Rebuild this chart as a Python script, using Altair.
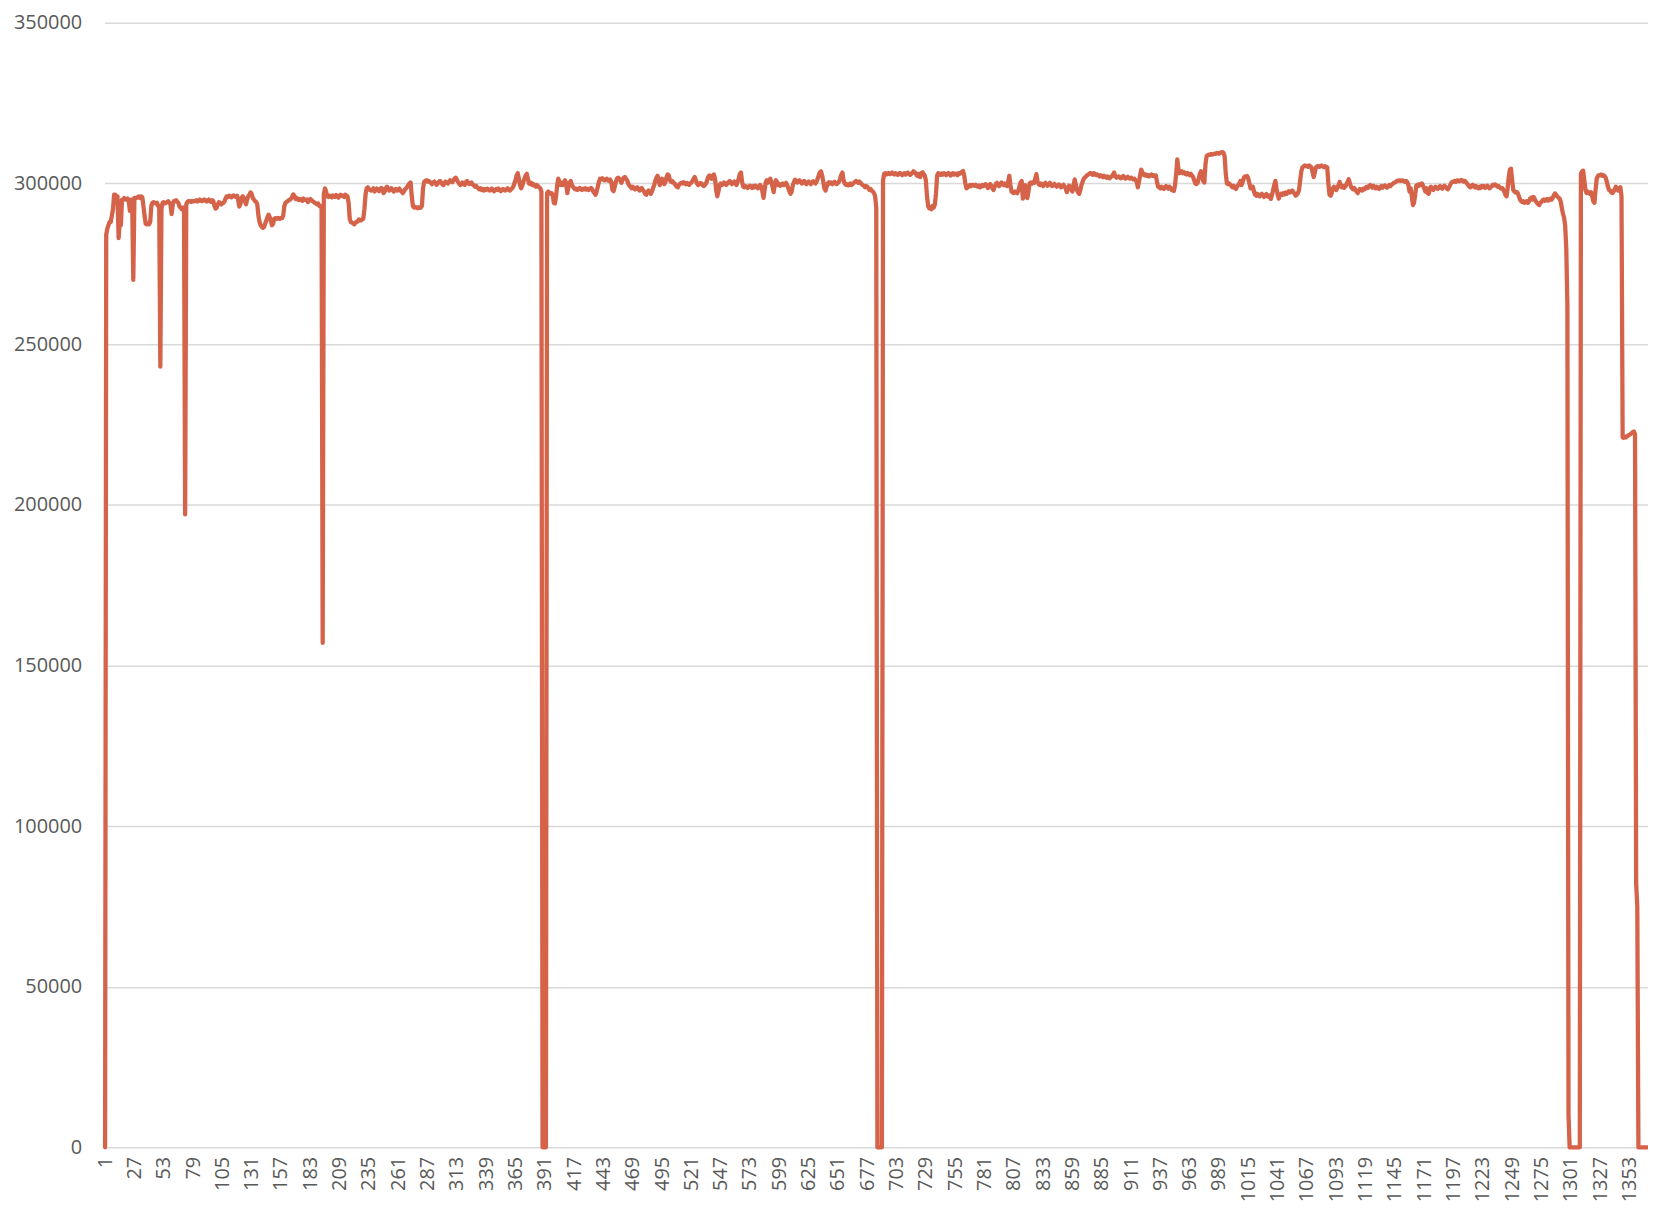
import altair as alt
import pandas as pd

# Series values in thousands (row start index in comment)
values_k = [
    # 1
    0, 284, 286, 287, 288, 288, 290, 292, 296.5, 296.5, 296, 296, 283, 288, 287, 295, 295, 295.5, 295, 295, 295.3, 294.5, 291.5, 295, 295, 270, 295.5, 295.5,
    # 29
    295.5, 295.8, 296, 295.5, 296, 295.8, 293, 290, 287.5, 287.3, 287.5, 287.3, 288, 293, 294, 294.2, 294, 293.8, 294, 293, 293, 243, 292, 294, 294.2, 293.8,
    # 55
    294, 294.2, 294.5, 294, 293.5, 290.5, 293.5, 294.5, 294.5, 294.8, 294.3, 294, 292.8, 292.5, 292, 292.5, 292.2, 197, 293.5, 294.3, 294.5, 294.5, 294.3, 294.6, 294.4, 294.5,
    # 81
    294.5, 294.8, 294.4, 294.6, 295, 294.7, 294.5, 294.8, 295, 294.6, 294.4, 294.8, 295, 294.5, 294.3, 294.8, 294.5, 293, 292.2, 292.5, 293.5, 294.2, 294, 293.5, 293.8, 294,
    # 107
    294.5, 295.5, 296, 295.8, 296.2, 296, 295.7, 296.1, 296.3, 296, 295.8, 296.2, 295, 292.8, 293.5, 295.5, 296, 295.6, 294.5, 293.5, 295, 296, 296.5, 297.2, 296.8, 295.5,
    # 133
    295, 294.5, 294.3, 293.5, 290, 288, 287, 286.5, 286.2, 286.5, 287.5, 288.5, 289.5, 290.3, 289.5, 288.5, 287, 287.5, 289, 289.2, 289, 289.3, 289.2, 289, 289.3, 289.2,
    # 159
    290, 293, 294, 294.3, 294.5, 294.8, 295, 295.3, 296, 296.6, 296, 295.2, 295.5, 295, 294.8, 295.2, 295, 294.6, 295.3, 295, 294.8, 295, 294.2, 294.7, 295.2, 294.8,
    # 185
    294.5, 294.3, 294, 293.8, 293.5, 293.8, 293, 292.8, 293, 157, 296.5, 298.5, 297.5, 296, 295.8, 296.2, 296, 295.7, 296.3, 296, 295.8, 296.4, 296, 295.6, 296.2, 296.5,
    # 211
    296.3, 296, 295.8, 296.5, 296.2, 296, 294, 289, 288, 287.8, 287.6, 287.3, 287.8, 288, 288.2, 288.8, 288.6, 288.5, 288.8, 289, 292, 296.5, 298.5, 298.8, 298.2, 298,
    # 237
    297.8, 298.2, 298.5, 297.5, 298, 298.4, 298, 297.6, 298.3, 298.6, 298.2, 297, 297.5, 298.5, 299, 298.3, 297.8, 298, 298.5, 298.2, 297.5, 298, 298.3, 297.8, 298, 298.4,
    # 263
    297.8, 297.5, 297, 297.5, 298.2, 298.5, 299, 299.5, 300, 300.3, 296, 293, 292.5, 292.7, 292.5, 292.3, 292.6, 292.4, 292.5, 293, 298.5, 300.5, 300.8, 301, 300.6, 300.8,
    # 289
    300.5, 300.2, 299.8, 300.3, 300.6, 300.2, 299.6, 300, 300.5, 300.8, 300.4, 299.8, 299.5, 300, 300.6, 300.3, 300, 300.5, 301, 300.7, 300.4, 301, 301.5, 301.8, 301.2, 300.5,
    # 315
    300, 299.5, 299.8, 300.3, 300, 299.6, 300.4, 300.8, 300.2, 299.8, 300, 300.3, 299.7, 299.4, 299, 299.3, 298.8, 298.5, 298.2, 298.5, 298, 298.3, 297.8, 298.2, 298, 298.4,
    # 341
    298.2, 297.8, 298, 298.4, 298.1, 297.6, 297.9, 298.3, 298, 298.4, 298, 297.6, 297.9, 298.3, 298, 297.8, 298.2, 298.5, 298, 297.8, 298.2, 298.5, 299, 300,
    # 365
    301, 302.5, 303.2, 301.5, 299.5, 298.5, 299.3, 300.5, 301.5, 302.5, 303, 301.5, 300, 299.8, 300.2, 299.5, 299.8, 299.3, 299, 299.5, 299.2, 298.8, 298.5, 297.5, 0, 0,
    # 391
    0, 0, 297, 297.5, 297.2, 296.8, 297, 296.5, 294, 293.8, 296, 299.5, 301.5, 300.5, 299.5, 300.2, 299.5, 300.5, 301, 299.8, 297, 299, 300.3, 300.8, 299.5, 299,
    # 417
    298.5, 298.2, 298.4, 298, 298.3, 298.6, 298.2, 298, 298.4, 298.2, 298.5, 298.1, 298.3, 298, 298.4, 298.6, 298.2, 297.5, 297, 296.5, 297.5, 299, 300.5, 301.5, 301.3, 301.6,
    # 443
    301.2, 301, 301.3, 301.5, 301, 300.8, 301.2, 300.5, 298, 297.6, 299, 300.5, 301.5, 301.8, 301.5, 301, 300.2, 301.3, 301.8, 302, 301.5, 301, 300, 299.3, 299, 298.5,
    # 469
    299, 298.6, 298.2, 298.5, 298.8, 298.3, 297.8, 298.2, 298.6, 298, 297.5, 296.8, 296.5, 297.3, 297.8, 297.2, 296.8, 297.5, 298.5, 299.5, 300.8, 301.8, 302.4, 301, 299.5, 300.5,
    # 495
    301.5, 300.5, 299.8, 300.5, 302, 302.8, 302.5, 301, 300.5, 300.8, 300.3, 300, 299.5, 299, 298.8, 299.5, 300, 300.2, 300, 300.4, 300.1, 299.8, 300.2, 300, 299.6, 300,
    # 521
    300.3, 300.8, 301.5, 302, 301, 300, 299.5, 299.8, 300.2, 300, 299.5, 299.2, 299.6, 300, 301, 302, 302.5, 302, 301.5, 302.5, 302.8, 301.5, 298, 296, 297.5, 299.5,
    # 547
    300, 299.5, 299.8, 300.3, 300, 299.6, 300, 300.4, 300.8, 300.2, 299.8, 300.3, 300.6, 300.2, 299.5, 300.5, 301.5, 303, 303.4, 300.5, 299, 298.8, 299.2, 299, 298.6, 299,
    # 573
    299.3, 299, 298.6, 299.2, 298.8, 299.3, 299, 298.5, 299, 299.5, 299, 297.5, 295.5, 298, 300.5, 301, 300.3, 300.8, 301.5, 300.5, 299, 297.3, 299.5, 301, 300.5, 299.5,
    # 599
    299.8, 299.3, 299.6, 300, 299.5, 299.8, 300.2, 299.5, 298.5, 297.5, 296.8, 297.5, 299.5, 300.5, 301.2, 300.8, 300.3, 300.6, 301, 300.5, 300, 300.4, 300.8, 300.2, 299.8, 300.3,
    # 625
    300.6, 300.2, 299.8, 300.3, 300.7, 300.3, 300, 300.5, 301.5, 302.5, 303.5, 303.8, 302.5, 300.5, 298.5, 297.8, 299, 300, 300.4, 300, 300.3, 299.8, 300.2, 300.5, 300, 299.8,
    # 651
    300.2, 300.6, 301.5, 302.8, 303.4, 301, 300, 299.6, 299.8, 299.4, 299.6, 300, 299.5, 299.8, 300.2, 300.4, 300.8, 300.5, 300.2, 300.6, 300.3, 299.8, 299.5, 299.3, 298.8, 299.2,
    # 677
    299, 298.5, 298, 298.3, 297.8, 297.5, 297, 296, 292.5, 0, 0, 0, 0, 0, 301, 303, 303.2, 302.8, 303, 303.3, 302.9, 303.1, 303.4, 303, 302.8, 303.2,
    # 703
    303, 302.7, 303.1, 303.3, 302.9, 302.6, 303, 303.2, 302.8, 303.1, 303.4, 303, 302.7, 303, 303.3, 303.8, 303.5, 303.2, 302.5, 302.3, 303, 302, 303.2, 303.5, 303, 302.5,
    # 729
    301, 296, 293, 292.3, 292.5, 292, 293, 292.5, 293.5, 297, 302.5, 303.2, 303, 302.7, 303.1, 302.8, 303.2, 303, 302.6, 303, 303.3, 302.9, 302.5, 303, 303.2, 302.8,
    # 755
    303.1, 303, 302.6, 303.2, 303, 303.4, 303.6, 303.9, 302.5, 300, 298.5, 298.8, 299, 299.5, 299.2, 299.6, 299.5, 299.3, 299.6, 299.2, 299, 299.4, 298.8, 299, 299.5, 299.2,
    # 781
    299.6, 299.8, 299.3, 298.6, 299.5, 299.8, 299.3, 298.5, 298, 299, 299.8, 300.2, 299.6, 299.2, 299.8, 300.3, 299.8, 299.5, 300, 299.6, 299.2, 300.5, 302.4, 299.5, 297.5, 297.2,
    # 807
    297, 297.5, 297.2, 297, 297.8, 299, 300.3, 300.8, 295.3, 297.5, 299.5, 296, 295.5, 297.5, 300, 300.3, 300, 300.4, 300.2, 301.5, 302.9, 300.8, 299.8, 299.5, 300, 299.6,
    # 833
    299.2, 299.8, 300.2, 299.7, 299.3, 299.8, 300.2, 299.6, 299.2, 299.5, 299.9, 299.4, 299, 299.3, 299.7, 299.2, 298.8, 299.3, 299.6, 299.1, 298.5, 297.3, 298.5, 299.3, 299, 298,
    # 859
    297.5, 299.5, 301.3, 299.5, 298, 297.2, 296.8, 298, 299.5, 300.5, 301.5, 301.8, 302.2, 302.5, 302.8, 303, 303.3, 303, 302.7, 303.2, 303, 302.6, 302.8, 302.5, 302.2, 302.6,
    # 885
    302.3, 302, 302.4, 302.1, 301.8, 302.2, 301.9, 301.6, 302, 302.3, 302.8, 303.4, 302.2, 301.8, 302, 302.2, 301.8, 301.6, 302, 302.3, 301.8, 301.5, 301.9, 302.1, 301.7, 301.5,
    # 911
    301.8, 301.6, 301.3, 301.5, 301, 300.5, 298.8, 300.5, 302.5, 304.3, 303.5, 302.8, 302.5, 302.8, 302.4, 302.6, 302.2, 302.5, 302.8, 302.4, 302.6, 302.3, 302.5, 300.5, 299, 298.8,
    # 937
    298.5, 299, 298.6, 298.3, 298.8, 299.2, 298.7, 298.4, 299, 298.6, 298, 297.8, 297.7, 299.5, 303, 307.5, 304.5, 303.2, 303.5, 303.8, 303.2, 303.5, 303, 302.8, 303.3, 303,
    # 963
    302.6, 303, 302.5, 302, 301, 300, 299.8, 300.2, 301.5, 303, 303.8, 302.5, 300.8, 300.3, 306, 308.5, 308.8, 309, 308.9, 309.2, 309, 309.1, 309.3, 309.2, 309.5, 309.4,
    # 989
    309.3, 309.5, 309.7, 309.8, 309.5, 308.5, 303, 300, 299.8, 300, 299.6, 299.2, 298.8, 299.3, 298.6, 298.3, 299, 299.5, 300, 300.8, 299.5, 300.5, 301.8, 302.2, 302, 302.3,
    # 1015
    301.5, 300, 298.5, 298.8, 299, 297.5, 296.5, 296.2, 296.8, 296.3, 296, 296.5, 296.8, 296.2, 295.8, 296.4, 296.7, 296.1, 295.8, 296.3, 295.2, 296.5, 298, 299.5, 300.8, 298.5,
    # 1041
    296.5, 295.3, 296.3, 296.8, 296.5, 297, 296.6, 297.2, 296.8, 297.3, 297.6, 297.2, 297.5, 297.8, 297.3, 296.8, 296.2, 296.5, 297, 298, 301, 303.8, 305, 305.3, 305.6, 305.4,
    # 1067
    305.5, 305.2, 305.6, 305.3, 305, 303.5, 302, 303.5, 305, 305.3, 305.5, 305.2, 305.4, 305.6, 305.3, 305.1, 305.4, 305.2, 305, 300, 296.5, 296.2, 297, 298.5, 299, 298.5,
    # 1093
    298, 298.6, 299.5, 300.5, 299.5, 298.8, 299.2, 298.7, 299, 299.8, 300.5, 301.3, 300.2, 299, 298.5, 298.2, 298.6, 298, 297.5, 297, 297.8, 298.3, 298, 297.8, 298.4, 298.2,
    # 1119
    298.6, 299, 298.6, 299.2, 299.5, 299, 298.7, 299.3, 298.8, 298.5, 299, 298.6, 298.3, 298.8, 299.2, 298.7, 299, 299.4, 299, 298.7, 299.1, 299.5, 299.2, 299.6, 299.9, 300.2,
    # 1145
    300.3, 300.6, 300.8, 300.9, 301, 300.8, 300.9, 301, 300.7, 300.5, 300.8, 300.4, 299.5, 297.5, 298.5, 296, 293.3, 294, 296.5, 299.3, 299.6, 299.3, 299.8, 299.5, 300, 299.3,
    # 1171
    298.5, 297.5, 298.5, 297, 296.8, 298.5, 299, 298.2, 298, 298.5, 299, 298.6, 298.3, 298.8, 299.2, 298.7, 298.4, 298.9, 299.3, 298.8, 298.5, 298.2, 298.8, 299.5, 300.2, 300.5,
    # 1197
    300.6, 300.8, 300.5, 300.9, 301, 300.7, 300.8, 301.1, 300.9, 300.6, 300.8, 300.4, 300, 299.5, 299, 298.8, 299.3, 299.6, 299.1, 298.8, 299.2, 298.7, 298.5, 299, 298.6, 299.2,
    # 1223
    298.9, 299.2, 298.6, 298.8, 299.3, 298.9, 298.5, 298.8, 299.2, 299.6, 299.4, 299.7, 299.3, 299, 299.2, 298.8, 298.4, 298.6, 298.2, 297.5, 296.5, 296, 298.5, 302, 304.3, 304.6,
    # 1249
    301, 298, 297.5, 297.2, 297.4, 297, 296, 295, 294.5, 294.2, 294.5, 294, 294.3, 294.5, 294, 294.5, 295.3, 295.6, 295, 295.8, 295.2, 294.5, 294, 293.6, 293.3, 294,
    # 1275
    294.3, 294.8, 295, 294.6, 294.9, 295.2, 294.7, 294.9, 295.3, 295, 295.5, 296.3, 296.9, 296.5, 296, 295.6, 295.4, 294.5, 292.5, 290.7, 289.5, 287, 280, 262, 10, 0,
    # 1301
    0, 0, 0, 0, 0, 0, 0, 0, 0, 303, 303.8, 304, 301, 298, 297, 297.5, 297, 296.8, 297.3, 296, 294.5, 294, 298, 301.5, 302.3, 302.6,
    # 1327
    302.5, 302.8, 302.4, 302.6, 302.3, 301.8, 300.5, 299, 298, 297.8, 297.2, 297, 297.5, 298.2, 299, 298.5, 297.8, 298.3, 298.8, 296, 221, 220.8, 221.2, 221, 221.3, 221.6,
    # 1353
    221.8, 222, 222.3, 222.6, 222.8, 222, 82, 75, 0, 0, 0, 0, 0, 0, 0, 0, 0,
]

x_tick_labels = [1, 27, 53, 79, 105, 131, 157, 183, 209, 235, 261, 287, 313, 339,
                 365, 391, 417, 443, 469, 495, 521, 547, 573, 599, 625, 651, 677,
                 703, 729, 755, 781, 807, 833, 859, 885, 911, 937, 963, 989, 1015,
                 1041, 1067, 1093, 1119, 1145, 1171, 1197, 1223, 1249, 1275, 1301,
                 1327, 1353]
y_tick_labels = [0, 50000, 100000, 150000, 200000, 250000, 300000, 350000]

df = pd.DataFrame({
    "idx": list(range(1, len(values_k) + 1)),
    "value": [v * 1000 for v in values_k],
})

FONT = "Open Sans"
LABEL_COLOR = "#595959"

chart = alt.Chart(df).mark_line(
    color="#D5634A", strokeWidth=4.3, strokeJoin="round", strokeCap="round"
).encode(
    x=alt.X(
        "idx:Q",
        scale=alt.Scale(domain=[0.5, 1369.5], nice=False, zero=False),
        axis=alt.Axis(
            values=x_tick_labels, format="d", labelAngle=-90, grid=False,
            domain=False, ticks=False, labelPadding=9, labelFontSize=20,
            labelColor=LABEL_COLOR, labelFont=FONT, labelOverlap=False,
            labelFlush=False, title=None,
        ),
    ),
    y=alt.Y(
        "value:Q",
        scale=alt.Scale(domain=[0, 350000], nice=False),
        axis=alt.Axis(
            values=y_tick_labels, format="d", grid=True, gridColor="#d9d9d9",
            gridWidth=1.5, domain=False, ticks=False, labelPadding=23,
            labelFontSize=20, labelColor=LABEL_COLOR, labelFont=FONT, title=None,
        ),
    ),
).properties(
    width=1551,
    height=1130,
    padding={"left": 97, "top": 12, "right": 0, "bottom": 57},
    autosize=alt.AutoSizeParams(type="none"),
    background="white",
).configure_view(strokeWidth=0)

chart.save("out.html", embed_options={"renderer": "svg", "actions": False})
